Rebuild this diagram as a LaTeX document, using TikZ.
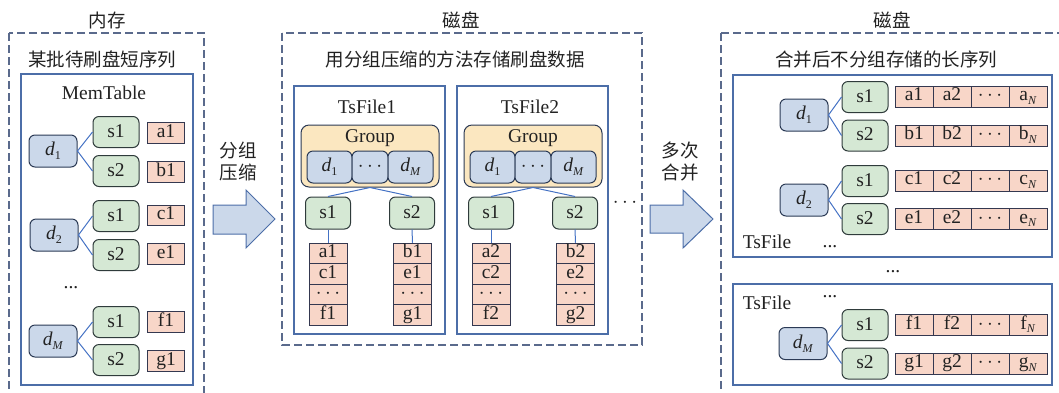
\documentclass[tikz,border=0pt]{standalone}
\usepackage{fontspec}
\setmainfont{Liberation Serif}
\newfontfamily\cjk{Noto Sans CJK SC}
\definecolor{dfill}{HTML}{CBD8EA}
\definecolor{dline}{HTML}{2B3A55}
\definecolor{sfill}{HTML}{D5E8D4}
\definecolor{sline}{HTML}{2F3B3B}
\definecolor{cfill}{HTML}{F8D6C8}
\definecolor{cline}{HTML}{343850}
\definecolor{gfill}{HTML}{FBE7C0}
\definecolor{boxline}{HTML}{4C6EA8}
\definecolor{linkcol}{HTML}{4472C4}
\definecolor{dashline}{HTML}{5A6A8C}
\definecolor{txt}{HTML}{222222}
\newcommand\lowsub[1]{\raisebox{-0.4ex}{\fontsize{12}{12}\selectfont #1}}
\newcommand\dd[1]{\textit{d}\lowsub{#1}}
\tikzset{
 base/.style={inner sep=0pt, text=txt, font=\fontsize{19.5}{21}\selectfont},
 cn/.style={inner sep=0pt, text=txt, font=\cjk\fontsize{18.5}{20}\selectfont},
 dnode/.style={base, draw=dline, fill=dfill, rounded corners=6pt, line width=1pt, minimum width=48pt, minimum height=32pt},
 snode/.style={base, draw=sline, fill=sfill, rounded corners=6pt, line width=1pt, minimum width=46pt, minimum height=31pt, text height=13pt, text depth=3pt},
 cell/.style={base, draw=cline, fill=cfill, line width=1pt, minimum width=37pt, minimum height=20.5pt, text height=13pt, text depth=4.5pt},
 gbox/.style={draw=dline, fill=gfill, rounded corners=8pt, line width=1pt},
 solidbox/.style={draw=boxline, line width=1.2pt},
 dashbox/.style={draw=dashline, line width=1.2pt, dash pattern=on 8pt off 4pt},
 conn/.style={draw=linkcol, line width=1pt},
 bigarrow/.style={draw=boxline, fill=dfill, line width=1pt}
}
\newcommand\tsfilepanel[3]{%
 \begin{scope}[xshift=#2]
  \draw[solidbox] (294,86) rectangle (445,334);
  \node[base] (#1-title) at (367,107) {TsFile#3};
  \node[gbox, minimum width=138pt, minimum height=62pt] (#1-group) at (370,156) {};
  \node[base] (#1-glabel) at (370,138) {Group};
  \node[dnode, minimum width=45pt] (#1-gd1) at (329.5,167) {\dd{1}};
  \node[dnode, minimum width=36pt] (#1-gdots) at (370,167) {$\cdots$};
  \node[dnode, minimum width=45pt] (#1-gdM) at (410.5,167) {\dd{\textit{M}}};
  \node[snode, minimum width=45pt, minimum height=32pt] (#1-s1) at (328,213) {s1};
  \node[snode, minimum width=45pt, minimum height=32pt] (#1-s2) at (412,213) {s2};
  \draw[conn] (#1-group.south) -- (#1-s1.north);
  \draw[conn] (#1-group.south) -- (#1-s2.north);
  \node[cell, minimum width=38pt] (#1-a) at (328,253.5) {a#3};
  \node[cell, minimum width=38pt] (#1-c) at (328,274) {c#3};
  \node[cell, minimum width=38pt] (#1-u) at (328,294.5) {$\cdots$};
  \node[cell, minimum width=38pt] (#1-f) at (328,315) {f#3};
  \node[cell, minimum width=38pt] (#1-b) at (412.5,253.5) {b#3};
  \node[cell, minimum width=38pt] (#1-e) at (412.5,274) {e#3};
  \node[cell, minimum width=38pt] (#1-v) at (412.5,294.5) {$\cdots$};
  \node[cell, minimum width=38pt] (#1-g) at (412.5,315) {g#3};
  \draw[conn] (#1-s1.south) -- (#1-a.north);
  \draw[conn] (#1-s2.south) -- (#1-b.north);
 \end{scope}}
% right panel row: prefix, y, four texts
\newcommand\datarow[6]{%
  \node[cell, minimum width=38pt, minimum height=21pt] (#1-1) at (914,#2) {#3};
  \node[cell, minimum width=38pt, minimum height=21pt] (#1-2) at (952,#2) {#4};
  \node[cell, minimum width=38pt, minimum height=21pt] (#1-3) at (990,#2) {#5};
  \node[cell, minimum width=38pt, minimum height=21pt] (#1-4) at (1028,#2) {#6};}
\begin{document}
\begin{tikzpicture}[x=1pt, y=-1pt]
\useasboundingbox (0,0) rectangle (1059,392);
\clip (0,0) rectangle (1059,392);
% ---------- left panel ----------
\node[cn] (memlabel) at (107,20) {内存};
\draw[dashbox] (9,33) rectangle (204,410);
\node[cn] (lefttitle) at (102,59) {某批待刷盘短序列};
\draw[solidbox] (21,74) rectangle (193,385);
\node[base] (memtable) at (104,93) {MemTable};
% group d1
\node[dnode] (L-d1) at (53,151) {\dd{1}};
\node[snode] (L-d1s1) at (116,132) {s1};
\node[snode] (L-d1s2) at (116,171) {s2};
\node[cell] (L-a1) at (166,133) {a1};
\node[cell] (L-b1) at (166,172) {b1};
\draw[conn] (L-d1.east) -- (L-d1s1.west);
\draw[conn] (L-d1.east) -- (L-d1s2.west);
% group d2
\node[dnode] (L-d2) at (54,235) {\dd{2}};
\node[snode] (L-d2s1) at (116,216) {s1};
\node[snode] (L-d2s2) at (116,255) {s2};
\node[cell] (L-c1) at (166,215.5) {c1};
\node[cell] (L-e1) at (166,254) {e1};
\draw[conn] (L-d2.east) -- (L-d2s1.west);
\draw[conn] (L-d2.east) -- (L-d2s2.west);
\node[base] (L-dots) at (71,288) {...};
% group dM
\node[dnode] (L-dM) at (53,341) {\dd{\textit{M}}};
\node[snode] (L-dMs1) at (116,322) {s1};
\node[snode] (L-dMs2) at (116,360) {s2};
\node[cell] (L-f1) at (166,322) {f1};
\node[cell] (L-g1) at (166,361) {g1};
\draw[conn] (L-dM.east) -- (L-dMs1.west);
\draw[conn] (L-dM.east) -- (L-dMs2.west);
% ---------- arrow 1 ----------
\draw[bigarrow] (213,205) -- (246,205) -- (246,190) -- (275,219) -- (246,248) -- (246,234) -- (213,234) -- cycle;
\node[cn] (arr1a) at (238,150) {分组};
\node[cn] (arr1b) at (238,172) {压缩};
% ---------- middle panel ----------
\node[cn] (disk1) at (461,20) {磁盘};
\draw[dashbox] (282,33) rectangle (642,345);
\node[cn] (midtitle) at (455,59) {用分组压缩的方法存储刷盘数据};
\tsfilepanel{T1}{0pt}{1}
\tsfilepanel{T2}{163pt}{2}
\node[base] (middots) at (625,203) {$\cdots$};
% ---------- arrow 2 ----------
\draw[bigarrow] (650,205) -- (683,205) -- (683,190) -- (713,219) -- (683,248) -- (683,233) -- (650,233) -- cycle;
\node[cn] (arr2a) at (680,150) {多次};
\node[cn] (arr2b) at (680,172) {合并};
% ---------- right panel ----------
\node[cn] (disk2) at (892,20) {磁盘};
\draw[dashbox] (721,33) rectangle (1080,410);
\node[cn] (righttitle) at (886,59) {合并后不分组存储的长序列};
\draw[solidbox] (733,75) rectangle (1052,257);
\draw[solidbox] (733,284) rectangle (1052,385);
% d1
\node[dnode] (R-d1) at (804,115) {\dd{1}};
\node[snode] (R-d1s1) at (865,97) {s1};
\node[snode] (R-d1s2) at (865,135.5) {s2};
\draw[conn] (R-d1.east) -- (R-d1s1.west);
\draw[conn] (R-d1.east) -- (R-d1s2.west);
\datarow{R-a}{96.5}{a1}{a2}{$\cdots$}{a\lowsub{\textit{N}}}
\datarow{R-b}{135.5}{b1}{b2}{$\cdots$}{b\lowsub{\textit{N}}}
% d2
\node[dnode] (R-d2) at (804,200) {\dd{2}};
\node[snode] (R-d2s1) at (865,181) {s1};
\node[snode] (R-d2s2) at (865,219) {s2};
\draw[conn] (R-d2.east) -- (R-d2s1.west);
\draw[conn] (R-d2.east) -- (R-d2s2.west);
\datarow{R-c}{180.5}{c1}{c2}{$\cdots$}{c\lowsub{\textit{N}}}
\datarow{R-e}{219}{e1}{e2}{$\cdots$}{e\lowsub{\textit{N}}}
\node[base] (R-ts1) at (767,242) {TsFile};
\node[base] (R-dots1) at (830,247) {...};
\node[base] (R-dots2) at (893,272) {...};
% dM
\node[base] (R-ts2) at (767,303) {TsFile};
\node[base] (R-dots3) at (830,297) {...};
\node[dnode] (R-dM) at (803,343.5) {\dd{\textit{M}}};
\node[snode] (R-dMs1) at (865,325) {s1};
\node[snode] (R-dMs2) at (865,363.5) {s2};
\draw[conn] (R-dM.east) -- (R-dMs1.west);
\draw[conn] (R-dM.east) -- (R-dMs2.west);
\datarow{R-f}{325}{f1}{f2}{$\cdots$}{f\lowsub{\textit{N}}}
\datarow{R-g}{363.5}{g1}{g2}{$\cdots$}{g\lowsub{\textit{N}}}
\end{tikzpicture}
\end{document}
